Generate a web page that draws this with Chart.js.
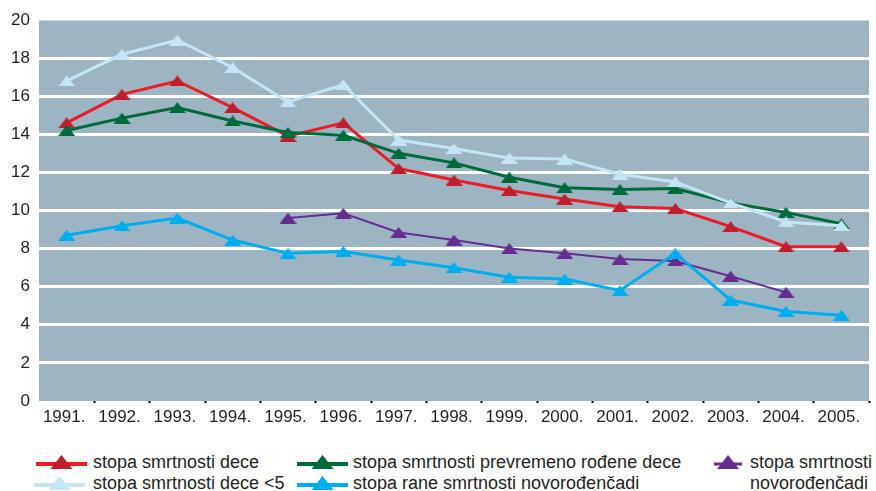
<!DOCTYPE html>
<html>
<head>
<meta charset="utf-8">
<script src="https://cdn.jsdelivr.net/npm/chart.js@4/dist/chart.umd.min.js"></script>
<style>
  body { margin: 0; background: #fff; overflow: hidden; }
  #wrap { position: relative; width: 876px; height: 491px; overflow: hidden;
          font-family: "Liberation Sans", Arial, sans-serif; color: #231f20; }
  #c { position: absolute; left: 0; top: 0; }
  .lt { position: absolute; font-size: 18px; line-height: 21px; white-space: nowrap; }
  .ls { position: absolute; }
</style>
</head>
<body>
<div id="wrap">
  <canvas id="c" width="878" height="440"></canvas>
  <div id="legend"></div>
</div>
<script>
// Years on the category axis
const years = ['1991.', '1992.', '1993.', '1994.', '1995.', '1996.', '1997.', '1998.',
               '1999.', '2000.', '2001.', '2002.', '2003.', '2004.', '2005.'];

// Rates per 1000
const childDeathRate      = [14.6, 16.1, 16.8, 15.4, 13.9, 14.6, 12.2, 11.6, 11.05, 10.6, 10.2, 10.1, 9.15, 8.1, 8.1];
const pretermDeathRate    = [14.2, 14.85, 15.4, 14.7, 14.1, 13.95, 13.0, 12.5, 11.75, 11.2, 11.1, 11.15, 10.4, 9.9, 9.3];
const neonatalDeathRate   = [null, null, null, null, 9.6, 9.85, 8.85, 8.45, 8.0, 7.75, 7.45, 7.35, 6.55, 5.7, null];
const under5DeathRate     = [16.8, 18.2, 18.95, 17.5, 15.7, 16.6, 13.7, 13.25, 12.75, 12.7, 11.9, 11.5, 10.4, 9.4, 9.2];
const earlyNeonatalRate   = [8.7, 9.2, 9.6, 8.45, 7.75, 7.85, 7.4, 7.0, 6.5, 6.4, 5.8, 7.75, 5.3, 4.7, 4.5];

const seriesNames = [
  'stopa smrtnosti dece',
  'stopa smrtnosti prevremeno rođene dece',
  'stopa smrtnosti novorođenčadi',
  'stopa smrtnosti dece <5',
  'stopa rane smrtnosti novorođenčadi'
];

const yTicks = [0, 2, 4, 6, 8, 10, 12, 14, 16, 18, 20];

// Visual styling per series
const styles = [
  { line: '#ed1c24', marker: '#be1e2d', width: 3 },
  { line: '#006b3a', marker: '#006b3a', width: 3 },
  { line: '#662d91', marker: '#662d91', width: 2 },
  { line: '#c3e5f6', marker: '#c3e5f6', width: 3 },
  { line: '#00aeef', marker: '#00aeef', width: 3 }
];
const seriesData = [childDeathRate, pretermDeathRate, neonatalDeathRate, under5DeathRate, earlyNeonatalRate];

// Flattened triangle marker drawn onto a small canvas
function triangleMarker(color, w, h) {
  const cv = document.createElement('canvas');
  cv.width = w; cv.height = h;
  const g = cv.getContext('2d');
  g.fillStyle = color;
  g.beginPath();
  g.moveTo(w / 2, 0);
  g.lineTo(w, h);
  g.lineTo(0, h);
  g.closePath();
  g.fill();
  return cv;
}

const plotBackground = {
  id: 'plotBackground',
  beforeDraw(chart) {
    const { ctx, chartArea: a } = chart;
    ctx.save();
    ctx.fillStyle = '#9db5c3';
    ctx.fillRect(a.left, a.top, a.right - a.left, a.bottom - a.top);
    ctx.restore();
  }
};

const datasets = seriesData.map((d, i) => ({
  label: seriesNames[i],
  data: d,
  borderColor: styles[i].line,
  borderWidth: styles[i].width,
  backgroundColor: styles[i].marker,
  pointStyle: triangleMarker(styles[i].marker, 17, 11),
  pointRadius: 6,
  spanGaps: false,
  tension: 0,
  order: 5 - i
}));

new Chart(document.getElementById('c'), {
  type: 'line',
  data: { labels: years, datasets },
  options: {
    responsive: false,
    animation: false,
    layout: { padding: { top: 20, left: 0, right: 0, bottom: 0 } },
    plugins: { legend: { display: false }, tooltip: { enabled: false } },
    scales: {
      x: {
        offset: true,
        grid: {
          offset: true,
          drawOnChartArea: false,
          drawTicks: true,
          tickLength: 2,
          tickWidth: 2,
          tickColor: ctx => (ctx.index === 0 || ctx.index >= years.length) ? 'rgba(0,0,0,0)' : '#000'
        },
        border: { display: false },
        ticks: {
          color: '#231f20',
          padding: 4,
          labelOffset: -2.5,
          maxRotation: 0,
          autoSkip: false,
          font: { family: '"Liberation Sans", Arial, sans-serif', size: 17 }
        },
        afterFit: s => { s.height = 39; }
      },
      y: {
        min: 0,
        max: 20,
        afterBuildTicks: s => { s.ticks = yTicks.map(v => ({ value: v })); },
        grid: {
          drawTicks: false,
          color: ctx => (ctx.tick && ctx.tick.value === 0) ? 'rgba(0,0,0,0)' : '#ffffff',
          lineWidth: ctx => (ctx.tick && ctx.tick.value === 20) ? 1.5 : 3
        },
        border: { display: false },
        ticks: {
          color: '#231f20',
          padding: 9,
          font: { family: '"Liberation Sans", Arial, sans-serif', size: 17 }
        },
        afterFit: s => { s.width = 39; }
      }
    }
  },
  plugins: [plotBackground]
});

// Legend below the plot
const legendSlots = [
  { sx: 36, tx: 93, y: 462 },
  { sx: 297, tx: 353, y: 462 },
  { sx: 714, tx: 750, y: 462, w: 28, wrap: 130 },
  { sx: 34, tx: 93, y: 483 },
  { sx: 297, tx: 353, y: 483 }
];
const legend = document.getElementById('legend');
legendSlots.forEach((s, i) => {
  const w = s.w || 51;
  const svgNS = 'http://www.w3.org/2000/svg';
  const svg = document.createElementNS(svgNS, 'svg');
  svg.setAttribute('width', w);
  svg.setAttribute('height', 16);
  svg.setAttribute('class', 'ls');
  svg.style.left = s.sx + 'px';
  svg.style.top = (s.y - 8) + 'px';
  const ln = document.createElementNS(svgNS, 'line');
  ln.setAttribute('x1', 0); ln.setAttribute('x2', w);
  ln.setAttribute('y1', 10); ln.setAttribute('y2', 10);
  ln.setAttribute('stroke', styles[i].line);
  ln.setAttribute('stroke-width', styles[i].width + 1);
  svg.appendChild(ln);
  const tri = document.createElementNS(svgNS, 'polygon');
  const cx = w / 2;
  tri.setAttribute('points', `${cx},1 ${cx + 11},15 ${cx - 11},15`);
  tri.setAttribute('fill', styles[i].marker);
  svg.appendChild(tri);
  legend.appendChild(svg);

  const t = document.createElement('div');
  t.className = 'lt';
  t.textContent = seriesNames[i];
  t.style.left = s.tx + 'px';
  t.style.top = (s.y - 10.5) + 'px';
  if (s.wrap) { t.style.whiteSpace = 'normal'; t.style.width = s.wrap + 'px'; }
  legend.appendChild(t);
});
</script>
</body>
</html>
